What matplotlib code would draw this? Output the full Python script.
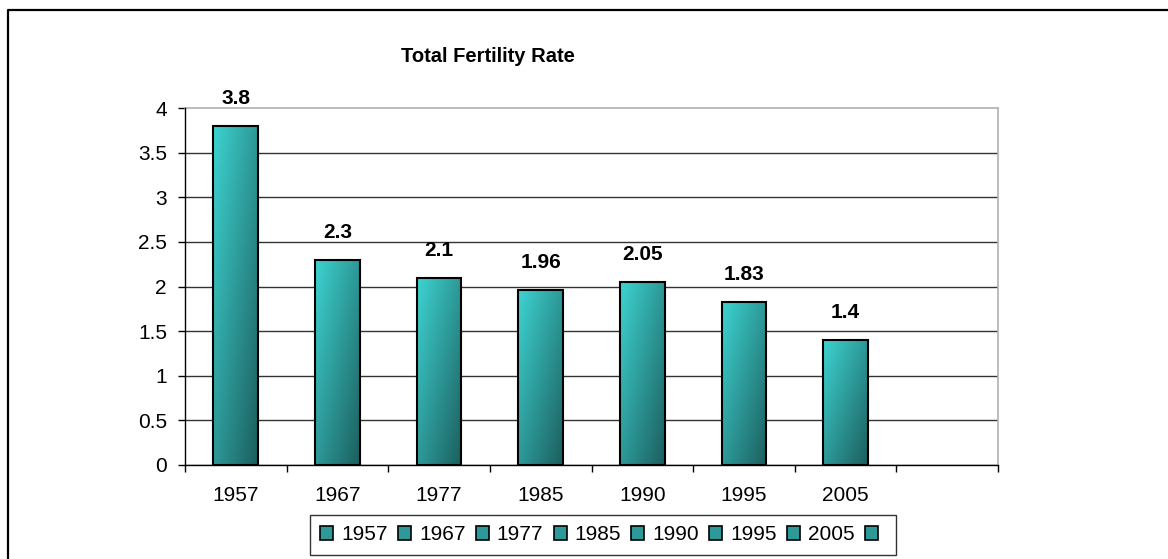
import numpy as np
import matplotlib
matplotlib.use('Agg')
import matplotlib.pyplot as plt
from matplotlib.patches import Rectangle
from matplotlib.lines import Line2D

plt.rcParams['font.family'] = ['Liberation Sans', 'DejaVu Sans']

years = ['1957', '1967', '1977', '1985', '1990', '1995', '2005']
tfr = [3.8, 2.3, 2.1, 1.96, 2.05, 1.83, 1.4]
n_slots = 8          # Excel left one empty category at the end
yticks = np.arange(0, 4.01, 0.5)

light = np.array([0.24, 0.83, 0.82])
dark = np.array([0.11, 0.37, 0.37])
mid = (light + dark) / 2


def gradient_fill(ax, bar):
    x0, y0 = bar.get_x(), bar.get_y()
    w, h = bar.get_width(), bar.get_height()
    u = np.linspace(0, 1, 60)
    v = np.linspace(0, 1, 160)
    t = (u[None, :] + v[:, None]) / 2
    img = light[None, None, :] * (1 - t[..., None]) + dark[None, None, :] * t[..., None]
    im = ax.imshow(img, extent=[x0, x0 + w, y0, y0 + h], origin='upper',
                   aspect='auto', zorder=2.5, interpolation='bilinear')
    im.set_clip_path(bar)


fig = plt.figure(figsize=(11.68, 5.59), dpi=100)
ax = fig.add_axes([185/1168, 1-465/559, (998-185)/1168, (465-108)/559])

x = np.arange(len(years))
bars = ax.bar(x, tfr, width=0.44, facecolor='none', edgecolor='black',
              linewidth=1.5, zorder=3)
for b in bars:
    gradient_fill(ax, b)

for xi, v in zip(x, tfr):
    ax.annotate(f'{v:g}', (xi, v), xytext=(0, 19.5), textcoords='offset points',
                ha='center', va='center', fontsize=15, fontweight='bold')

ax.set_xlim(-0.5, n_slots - 0.5)
ax.set_ylim(0, 4)
ax.set_yticks(yticks)
ax.set_yticklabels([f'{t:g}' for t in yticks])
ax.set_xticks(x)
ax.set_xticklabels(years)
ax.set_xticks(np.arange(n_slots + 1) - 0.5, minor=True)
ax.tick_params(axis='x', which='major', length=0, pad=15, labelsize=15)
ax.tick_params(axis='x', which='minor', length=5, width=1, direction='out')
ax.tick_params(axis='y', length=5, width=1, direction='out', pad=8, labelsize=15)

ax.yaxis.grid(True, color='#333333', linewidth=1)
ax.get_ygridlines()[-1].set_visible(False)
ax.set_axisbelow(True)

for s in ['top', 'right']:
    ax.spines[s].set_color('#b0b0b0')
    ax.spines[s].set_linewidth(1.2)
for s in ['left', 'bottom']:
    ax.spines[s].set_color('black')
    ax.spines[s].set_linewidth(1)
    ax.spines[s].set_zorder(4)

fig.text(488/1168, 1-56/559, 'Total Fertility Rate', ha='center', va='center',
         fontsize=14.5, fontweight='bold')

handles = [Rectangle((0, 0), 1, 1, facecolor=mid, edgecolor='black', linewidth=1.2)
           for _ in range(n_slots)]
labels = years + ['']
leg = fig.legend(handles, labels, loc='center', bbox_to_anchor=(603/1168, 1-535/559),
                 ncol=n_slots, fontsize=15, frameon=True, fancybox=False,
                 edgecolor='black', handlelength=0.62, handleheight=0.62,
                 handletextpad=0.38, columnspacing=0.5, borderpad=0.5,
                 borderaxespad=0)
leg.get_frame().set_linewidth(1)

# outer chart border (runs off the right and bottom edges)
fig.add_artist(Line2D([8/1168, 8/1168, 1.0], [0.0, 1-10/559, 1-10/559],
                      transform=fig.transFigure, color='black', linewidth=1.6))

fig.savefig('out.png', dpi=100)
